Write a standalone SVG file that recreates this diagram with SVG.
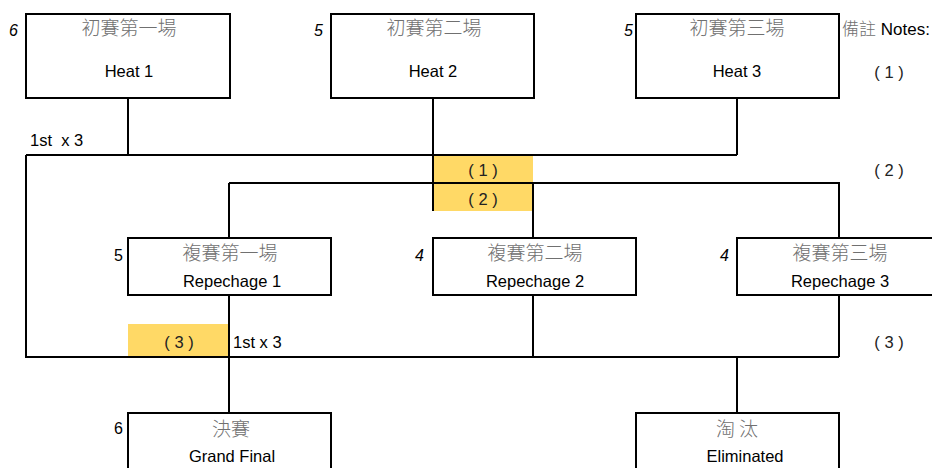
<svg xmlns="http://www.w3.org/2000/svg" width="932" height="468" viewBox="0 0 932 468">
<style>
.box{fill:#fff;stroke:#000;stroke-width:2}
.ln{fill:none;stroke:#000;stroke-width:2}
.hl{fill:#FFD966;stroke:none}
.zh{font-family:"Noto Sans CJK TC","Noto Sans CJK SC",sans-serif;font-size:19px;font-weight:300;fill:#707070;text-anchor:middle}
.en{font-family:"Liberation Sans",Arial,sans-serif;font-size:16.5px;fill:#000;text-anchor:middle}
.num{font-family:"Liberation Sans",Arial,sans-serif;font-size:16px;fill:#000}
.it{font-style:italic}
.note{font-family:"Liberation Sans",Arial,sans-serif;font-size:16.5px;fill:#222;text-anchor:middle}
.lab{font-family:"Liberation Sans",Arial,sans-serif;font-size:16.5px;fill:#000;white-space:pre}
</style>
<rect width="932" height="468" fill="#fff"/>
<g id="highlights">
<rect class="hl" x="433" y="155" width="100" height="28"/>
<rect class="hl" x="433" y="183" width="100" height="28"/>
<rect class="hl" x="128" y="324" width="101" height="33"/>
</g>
<g id="connectors">
<path class="ln" d="M128 98V155"/>
<path class="ln" d="M433 98V211"/>
<path class="ln" d="M737 98V155"/>
<path class="ln" d="M26 155H737"/>
<path class="ln" d="M26 155V357H839"/>
<path class="ln" d="M229 183H839V238"/>
<path class="ln" d="M229 183V238"/>
<path class="ln" d="M533 183V238"/>
<path class="ln" d="M229 295V413"/>
<path class="ln" d="M533 295V357"/>
<path class="ln" d="M839 295V357"/>
<path class="ln" d="M737 357V413"/>
</g>
<g id="heat1">
<rect class="box" x="26" y="14" width="204" height="84"/>
<text class="zh" x="129" y="35">初賽第一場</text>
<text class="en" x="129" y="77">Heat 1</text>
<text class="num it" x="9" y="36">6</text>
</g>
<g id="heat2">
<rect class="box" x="331" y="14" width="203" height="84"/>
<text class="zh" x="434" y="35">初賽第二場</text>
<text class="en" x="433" y="77">Heat 2</text>
<text class="num it" x="314" y="36">5</text>
</g>
<g id="heat3">
<rect class="box" x="636" y="14" width="203" height="84"/>
<text class="zh" x="737" y="35">初賽第三場</text>
<text class="en" x="737" y="77">Heat 3</text>
<text class="num it" x="624" y="36">5</text>
</g>
<g id="rep1">
<rect class="box" x="128" y="238" width="203" height="57"/>
<text class="zh" x="230" y="260">複賽第一場</text>
<text class="en" x="232" y="287">Repechage 1</text>
<text class="num" x="114" y="261">5</text>
</g>
<g id="rep2">
<rect class="box" x="433" y="238" width="203" height="57"/>
<text class="zh" x="535" y="260">複賽第二場</text>
<text class="en" x="535" y="287">Repechage 2</text>
<text class="num it" x="415" y="261">4</text>
</g>
<g id="rep3">
<rect class="box" x="737" y="238" width="205" height="57"/>
<text class="zh" x="840" y="260">複賽第三場</text>
<text class="en" x="840" y="287">Repechage 3</text>
<text class="num it" x="720" y="261">4</text>
</g>
<g id="final">
<rect class="box" x="128" y="413" width="203" height="70"/>
<text class="zh" x="231" y="436">決賽</text>
<text class="en" x="232" y="462">Grand Final</text>
<text class="num" x="114" y="434">6</text>
</g>
<g id="eliminated">
<rect class="box" x="636" y="413" width="203" height="70"/>
<text class="zh" x="737" y="436">淘 汰</text>
<text class="en" x="745" y="462">Eliminated</text>
</g>
<g id="labels">
<text class="lab" x="30" y="146">1st  x 3</text>
<text class="lab" x="233" y="348">1st x 3</text>
<text class="note" x="483" y="176">( 1 )</text>
<text class="note" x="483" y="205">( 2 )</text>
<text class="note" x="179" y="348">( 3 )</text>
<text x="842" y="35"><tspan font-family="'Noto Sans CJK TC',sans-serif" font-size="17" font-weight="300" fill="#707070">備註</tspan><tspan font-family="'Liberation Sans',Arial,sans-serif" font-size="17" fill="#000"> Notes:</tspan></text>
<text class="note" x="889" y="78">( 1 )</text>
<text class="note" x="889" y="176">( 2 )</text>
<text class="note" x="889" y="348">( 3 )</text>
</g>
</svg>
